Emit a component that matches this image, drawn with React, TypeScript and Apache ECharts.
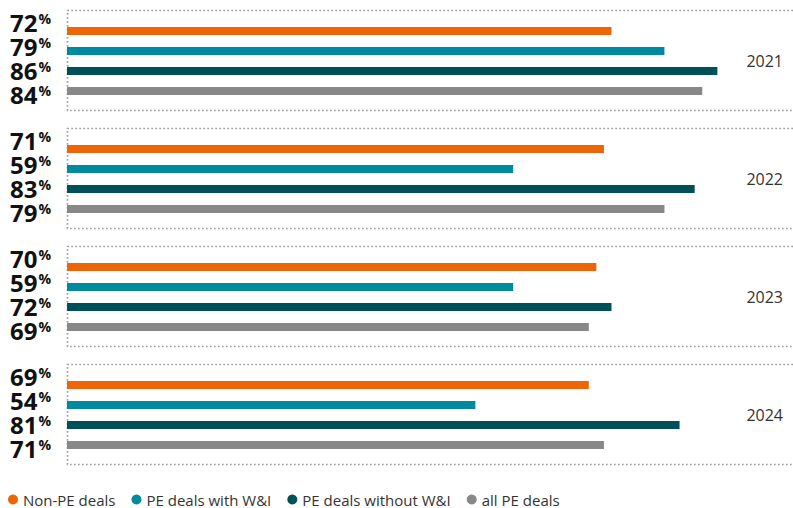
import React, { useEffect, useRef } from "react";
import * as echarts from "echarts";

// Share of deals per year, in percent
const years = ["2021", "2022", "2023", "2024"];
const seriesNames = ["Non-PE deals", "PE deals with W&I", "PE deals without W&I", "all PE deals"];
const nonPE = [72, 71, 70, 69];
const peWithWI = [79, 59, 59, 54];
const peWithoutWI = [86, 83, 72, 81];
const allPE = [84, 79, 69, 71];
const colors = ["#EE6508", "#008A9F", "#00505A", "#888888"];

const W = 793;
const H = 508;
const PLOT_LEFT = 67;
const PANEL_TOP0 = 10;
const PANEL_STEP = 118;
const PANEL_H = 100;
const FONT = "'Open Sans', 'Noto Sans', sans-serif";

export default function App() {
  const ref = useRef<HTMLDivElement>(null);

  useEffect(() => {
    if (!ref.current) return;
    document.body.style.margin = "0";
    const chart = echarts.init(ref.current, undefined, { renderer: "svg" });
    const all = [nonPE, peWithWI, peWithoutWI, allPE];
    const n = years.length;

    const grids: any[] = [];
    const xAxes: any[] = [];
    const yAxes: any[] = [];
    const series: any[] = [];
    const graphics: any[] = [];

    const rich = {
      num: { fontFamily: FONT, fontSize: 24, fontWeight: "bold", color: "#111111", lineHeight: 22 },
      pct: {
        fontFamily: FONT,
        fontSize: 14,
        fontWeight: "bold",
        color: "#111111",
        verticalAlign: "top",
        lineHeight: 14,
        padding: [0, 0, 0, 1],
      },
    };

    // bar grids (0..n-1)
    years.forEach((year, g) => {
      const top = PANEL_TOP0 + g * PANEL_STEP;
      grids.push({ left: PLOT_LEFT, right: 0, top: top + 11, height: 80 });
      xAxes.push({ type: "value", gridIndex: g, min: 0, max: 96, show: false });
      yAxes.push({
        type: "category",
        gridIndex: g,
        data: seriesNames,
        inverse: true,
        axisLine: { show: false },
        axisTick: { show: false },
        axisLabel: { show: false },
        splitLine: { show: false },
      });
      yAxes.push({
        type: "category",
        gridIndex: g,
        position: "right",
        data: [year],
        axisLine: { show: false },
        axisTick: { show: false },
        axisLabel: {
          inside: true,
          margin: 10,
          fontFamily: FONT,
          fontSize: 16,
          color: "#333333",
        },
      });
      seriesNames.forEach((name, s) => {
        series.push({
          type: "bar",
          name,
          xAxisIndex: g,
          yAxisIndex: 2 * g,
          stack: "panel" + g,
          barWidth: 8,
          itemStyle: { color: colors[s] },
          data: seriesNames.map((_, i) => (i === s ? all[s][g] : "-")),
        });
      });
      // dotted frame: top, left and bottom edges
      graphics.push({
        type: "polyline",
        shape: {
          points: [
            [W, top + 0.5],
            [PLOT_LEFT + 0.5, top + 0.5],
            [PLOT_LEFT + 0.5, top + PANEL_H + 0.5],
            [W, top + PANEL_H + 0.5],
          ],
        },
        style: { stroke: "#a0a0a0", lineWidth: 1.7, lineDash: [1.7, 2.3], fill: null },
        silent: true,
      });
    });

    // label grids (n..2n-1): the big percentage figures, spaced a little wider than the bars
    years.forEach((_year, g) => {
      const top = PANEL_TOP0 + g * PANEL_STEP;
      const vals = all.map((arr) => arr[g]);
      grids.push({ left: PLOT_LEFT, right: 0, top: top + 1, height: 95 });
      xAxes.push({ type: "value", gridIndex: n + g, min: 0, max: 96, show: false });
      yAxes.push({
        type: "category",
        gridIndex: n + g,
        data: seriesNames,
        inverse: true,
        axisLine: { show: false },
        axisTick: { show: false },
        splitLine: { show: false },
        axisLabel: {
          margin: 16,
          align: "right",
          interval: 0,
          showMinLabel: true,
          showMaxLabel: true,
          hideOverlap: false,
          formatter: (_v: string, i: number) => `{num|${vals[i]}}{pct|%}`,
          rich,
        },
      });
    });

    chart.setOption({
      animation: false,
      textStyle: { fontFamily: FONT },
      grid: grids,
      xAxis: xAxes,
      yAxis: yAxes,
      series,
      graphic: graphics,
      legend: {
        data: seriesNames,
        left: 8,
        top: 492,
        padding: 0,
        icon: "circle",
        itemWidth: 10,
        itemHeight: 10,
        itemGap: 16,
        textStyle: { fontFamily: FONT, fontSize: 15, lineHeight: 15, color: "#333333" },
      },
    });
    return () => chart.dispose();
  }, []);

  return <div ref={ref} style={{ width: W, height: H }} />;
}
